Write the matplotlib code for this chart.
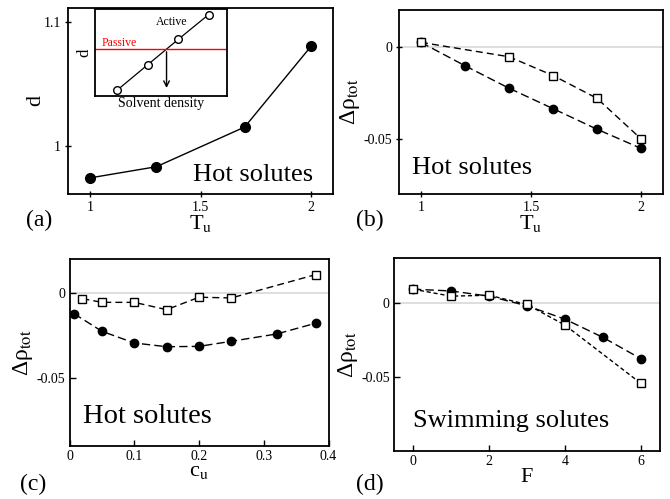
import matplotlib
matplotlib.use("Agg")
import matplotlib.pyplot as plt

plt.rcParams['font.family'] = ['Liberation Serif', 'DejaVu Serif']
plt.rcParams['mathtext.fontset'] = 'stix'

# (a) hot solutes: d vs T_u
a_tu = [1.0, 1.3, 1.7, 2.0]
a_d = [0.974, 0.983, 1.015, 1.080]

# inset sketch (arbitrary units)
inset_density = [0.17, 0.40, 0.63, 0.86]
inset_d = [0.07, 0.36, 0.65, 0.935]
inset_passive = 0.54
inset_cross = 0.542
inset_arrow_end = 0.06

# (b) hot solutes: delta rho vs T_u
b_tu_circ = [1.0, 1.2, 1.4, 1.6, 1.8, 2.0]
b_circ = [0.0024, -0.0103, -0.0225, -0.0336, -0.0448, -0.0552]
b_tu_sq = [1.0, 1.4, 1.6, 1.8, 2.0]
b_sq = [0.0024, -0.0054, -0.0156, -0.028, -0.050]

# (c) hot solutes: delta rho vs c_u
c_cu_circ = [0.007, 0.05, 0.1, 0.15, 0.2, 0.25, 0.32, 0.38]
c_circ = [-0.0122, -0.0225, -0.0294, -0.0316, -0.0314, -0.0284, -0.0241, -0.0178]
c_cu_sq = [0.02, 0.05, 0.1, 0.15, 0.2, 0.25, 0.38]
c_sq = [-0.0033, -0.0055, -0.0055, -0.0098, -0.0025, -0.0029, 0.0108]

# (d) swimming solutes: delta rho vs F
d_f_circ = [0, 1, 2, 3, 4, 5, 6]
d_circ = [0.009, 0.0078, 0.0043, -0.0022, -0.0112, -0.0235, -0.0379]
d_f_sq = [0, 1, 2, 3, 4, 6]
d_sq = [0.009, 0.0043, 0.0049, -0.0013, -0.0152, -0.0545]

W, H = 670, 499


def box(l, t, r, b):
    return [l / W, (H - b) / H, (r - l) / W, (b - t) / H]


fig = plt.figure(figsize=(6.7, 4.99), dpi=100)
ax_a = fig.add_axes(box(68, 8, 333, 194))
ax_b = fig.add_axes(box(399, 10, 663, 194))
ax_c = fig.add_axes(box(69.5, 259, 328.5, 446))
ax_d = fig.add_axes(box(394, 258, 660, 451))

rho_label = 'Δρ$_{\\rm tot}$'
circ_kw = dict(color='black', marker='o', ms=6, lw=1, ls=(0, (6, 3)), zorder=3)
sq_kw = dict(color='black', marker='s', ms=5.5, mfc='white', mew=1, lw=1, ls=(0, (5, 3)), zorder=4)

for ax, direction in [(ax_a, 'inout'), (ax_b, 'inout'), (ax_c, 'in'), (ax_d, 'in')]:
    ax.tick_params(direction=direction, length=4, width=1, labelsize=10, pad=3,
                   top=False, right=False)
    for s in ax.spines.values():
        s.set_linewidth(1.3)

# (a)
ax_a.plot(a_tu, a_d, color='black', marker='o', ms=7, lw=1)
ax_a.set_xlim(0.9, 2.1)
ax_a.set_ylim(0.961, 1.111)
ax_a.set_xticks([1, 1.5, 2], ['1', '1.5', '2'])
ax_a.set_yticks([1.0, 1.1], ['1', '1.1'])
ax_a.set_xlabel('T$_{\\rm u}$', fontsize=16, labelpad=-1)
ax_a.set_ylabel('d', fontsize=16, labelpad=-1)
ax_a.text(0.925, 0.07, 'Hot solutes', transform=ax_a.transAxes, ha='right',
          va='baseline', fontsize=19)

ins = fig.add_axes(box(95, 9, 227, 96))
ins.plot(inset_density, inset_d, color='black', marker='o', ms=5.5, mfc='white',
         mew=1, lw=0.9)
ins.axhline(inset_passive, color='red', lw=1)
ins.annotate('', xy=(inset_cross, inset_arrow_end), xytext=(inset_cross, inset_passive),
             arrowprops=dict(arrowstyle='->', color='black', lw=1))
ins.set_xlim(0, 1)
ins.set_ylim(0, 1)
ins.set_xticks([])
ins.set_yticks([])
for s in ins.spines.values():
    s.set_linewidth(1.3)
ins.text(0.58, 0.85, 'Active', fontsize=8.5, ha='center', va='center')
ins.text(0.05, 0.61, 'Passive', fontsize=8.5, color='red', ha='left', va='center')
ins.set_xlabel('Solvent density', fontsize=10, labelpad=1)
ins.set_ylabel('d', fontsize=12, labelpad=2)

# (b)
ax_b.axhline(0, color='#d8d8d8', lw=1.2, zorder=0)
ax_b.plot(b_tu_circ, b_circ, **circ_kw)
ax_b.plot(b_tu_sq, b_sq, **sq_kw)
ax_b.set_xlim(0.9, 2.1)
ax_b.set_ylim(-0.08, 0.02)
ax_b.set_xticks([1, 1.5, 2], ['1', '1.5', '2'])
ax_b.set_yticks([-0.05, 0], ['-0.05', '0'])
ax_b.set_xlabel('T$_{\\rm u}$', fontsize=16, labelpad=-1)
ax_b.set_ylabel(rho_label, fontsize=17, labelpad=1)
ax_b.text(0.05, 0.11, 'Hot solutes', transform=ax_b.transAxes, ha='left',
          va='baseline', fontsize=19)

# (c)
ax_c.axhline(0, color='#d8d8d8', lw=1.2, zorder=0)
ax_c.plot(c_cu_circ, c_circ, **circ_kw)
ax_c.plot(c_cu_sq, c_sq, **sq_kw)
ax_c.set_xlim(0, 0.4)
ax_c.set_ylim(-0.09, 0.02)
ax_c.set_xticks([0, 0.1, 0.2, 0.3, 0.4], ['0', '0.1', '0.2', '0.3', '0.4'])
ax_c.set_yticks([-0.05, 0], ['-0.05', '0'])
ax_c.set_xlabel('c$_{\\rm u}$', fontsize=16, labelpad=-1)
ax_c.set_ylabel(rho_label, fontsize=17, labelpad=1)
ax_c.text(0.052, 0.125, 'Hot solutes', transform=ax_c.transAxes, ha='left',
          va='baseline', fontsize=20.5)

# (d)
ax_d.axhline(0, color='#d8d8d8', lw=1.2, zorder=0)
ax_d.plot(d_f_circ, d_circ, **circ_kw)
ax_d.plot(d_f_sq, d_sq, **dict(sq_kw, ls=(0, (3, 2))))
ax_d.set_xlim(-0.5, 6.5)
ax_d.set_ylim(-0.1, 0.03)
ax_d.set_xticks([0, 2, 4, 6], ['0', '2', '4', '6'])
ax_d.set_yticks([-0.05, 0], ['-0.05', '0'])
ax_d.set_xlabel('F', fontsize=16, labelpad=0)
ax_d.set_ylabel(rho_label, fontsize=17, labelpad=1)
ax_d.text(0.07, 0.125, 'Swimming solutes', transform=ax_d.transAxes, ha='left',
          va='baseline', fontsize=19)

for label, x, y in [('(a)', 39, 220), ('(b)', 370, 220), ('(c)', 33, 484), ('(d)', 370, 484)]:
    fig.text(x / W, 1 - y / H, label, fontsize=17, ha='center', va='center')

fig.savefig('out.png', dpi=100)
